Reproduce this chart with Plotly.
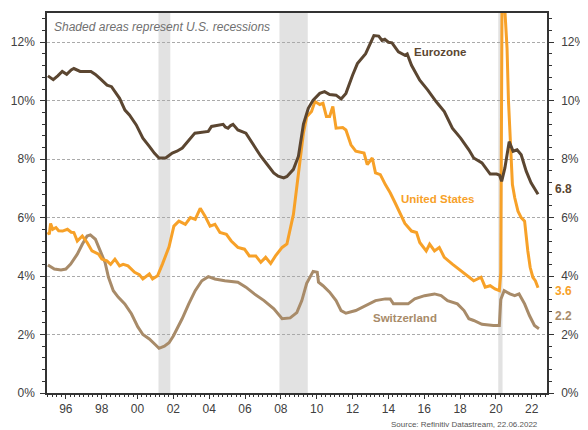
import plotly.graph_objects as go

# ---------------- data ----------------
ez_x = [1995.0, 1995.3, 1995.55, 1995.8, 1996.05, 1996.3, 1996.45, 1996.8, 1997.4, 1997.65, 1997.9,
        1998.3, 1998.55, 1998.8, 1999.0, 1999.3, 1999.55, 1999.93, 2000.3, 2000.66, 2000.95, 2001.2,
        2001.57, 2001.94, 2002.2, 2002.5, 2002.86, 2003.2, 2003.95, 2004.13, 2004.78, 2004.9, 2005.05,
        2005.2, 2005.33, 2005.6, 2006.05, 2006.5, 2006.88, 2007.25, 2007.6, 2007.85, 2008.16, 2008.34,
        2008.7, 2008.98, 2009.26, 2009.53, 2009.8, 2010.17, 2010.44, 2010.72, 2011.08, 2011.36, 2011.63,
        2012.0, 2012.27, 2012.73, 2013.19, 2013.46, 2013.64, 2013.8, 2014.0, 2014.2, 2014.38, 2014.56,
        2014.92, 2015.05, 2015.29, 2015.75, 2016.2, 2016.66, 2017.12, 2017.57, 2018.03, 2018.49, 2018.76,
        2019.22, 2019.68, 2020.04, 2020.2, 2020.32, 2020.5, 2020.74, 2020.96, 2021.18, 2021.41, 2021.69,
        2021.96, 2022.35]
ez_y = [10.85, 10.72, 10.85, 11.0, 10.9, 11.05, 11.1, 11.0, 11.0, 10.9, 10.76,
        10.53, 10.48, 10.25, 10.08, 9.68, 9.51, 9.17, 8.72, 8.44, 8.2, 8.04,
        8.04, 8.21, 8.27, 8.38, 8.63, 8.89, 8.95, 9.12, 9.19, 9.1, 9.06,
        9.15, 9.19, 9.0, 8.89, 8.44, 8.1, 7.81, 7.53, 7.42, 7.36, 7.41,
        7.65, 8.1, 9.2, 9.74, 10.02, 10.25, 10.31, 10.21, 10.19, 10.06, 10.25,
        10.87, 11.27, 11.61, 12.23, 12.21, 12.06, 12.1, 12.0, 11.98, 11.84, 11.67,
        11.55, 11.6, 11.21, 10.7, 10.36, 9.97, 9.63, 9.06, 8.72, 8.32, 8.04,
        7.87, 7.49, 7.49, 7.45, 7.24, 7.7, 8.6, 8.27, 8.32, 8.15, 7.59,
        7.19, 6.8]

us_x = [1995.0, 1995.08, 1995.15, 1995.27, 1995.45, 1995.6, 1995.82, 1996.09, 1996.3, 1996.45, 1996.64,
        1996.92, 1997.19, 1997.46, 1997.83, 1998.01, 1998.29, 1998.5, 1998.74, 1999.0, 1999.2, 1999.47,
        1999.84, 2000.1, 2000.3, 2000.5, 2000.66, 2000.84, 2001.12, 2001.39, 2001.76, 2002.03, 2002.31,
        2002.67, 2002.95, 2003.22, 2003.5, 2003.77, 2004.05, 2004.32, 2004.6, 2004.96, 2005.23, 2005.6,
        2005.97, 2006.24, 2006.6, 2006.88, 2007.15, 2007.43, 2007.7, 2008.07, 2008.34, 2008.7, 2008.98,
        2009.26, 2009.44, 2009.71, 2009.9, 2010.17, 2010.35, 2010.54, 2010.72, 2010.9, 2011.08, 2011.45,
        2011.63, 2011.91, 2012.18, 2012.64, 2012.82, 2013.1, 2013.28, 2013.55, 2013.83, 2014.1, 2014.38,
        2014.65, 2014.92, 2015.29, 2015.57, 2015.75, 2016.11, 2016.3, 2016.57, 2016.84, 2017.12, 2017.57,
        2018.03, 2018.49, 2018.76, 2019.17, 2019.4, 2019.68, 2019.95, 2020.19, 2020.27, 2020.35, 2020.5,
        2020.62, 2020.7, 2020.78, 2020.85, 2020.92, 2021.05, 2021.23, 2021.41, 2021.6, 2021.78, 2021.91,
        2022.06, 2022.2, 2022.35]
us_y = [5.5, 5.43, 5.8, 5.6, 5.66, 5.55, 5.54, 5.6, 5.5, 5.49, 5.2,
        5.37, 5.15, 4.86, 4.75, 4.58, 4.52, 4.4, 4.58, 4.35, 4.4, 4.35,
        4.13, 4.05, 3.9, 4.0, 4.07, 3.9, 4.01, 4.41, 5.0, 5.71, 5.88,
        5.77, 6.0, 5.94, 6.32, 6.05, 5.71, 5.77, 5.49, 5.43, 5.2, 4.98,
        4.92, 4.69, 4.69, 4.47, 4.64, 4.43, 4.69, 4.98, 5.1, 6.11, 7.47,
        8.9, 9.45, 9.63, 9.97, 9.87, 9.91, 9.46, 9.46, 9.8, 9.06, 9.08,
        9.0, 8.49, 8.27, 8.21, 7.81, 8.04, 7.53, 7.47, 7.13, 6.85, 6.5,
        6.15, 5.8, 5.54, 5.49, 5.15, 4.86, 5.09, 4.86, 4.98, 4.64, 4.41,
        4.18, 3.96, 3.84, 3.96, 3.62, 3.67, 3.56, 3.5, 4.1, 14.7, 13.3,
        11.8, 10.0, 8.8, 8.0, 7.13, 6.68, 6.22, 6.0, 5.88, 4.86, 4.3,
        3.96, 3.84, 3.6]

ch_x = [1995.0, 1995.36, 1995.73, 1996.0, 1996.27, 1996.64, 1996.92, 1997.19, 1997.37, 1997.65, 1997.92,
        1998.19, 1998.38, 1998.65, 1998.92, 1999.29, 1999.66, 2000.02, 2000.3, 2000.66, 2001.0, 2001.2,
        2001.5, 2001.76, 2002.0, 2002.25, 2002.49, 2002.86, 2003.22, 2003.59, 2003.95, 2004.32, 2004.87,
        2005.6, 2006.05, 2006.52, 2007.06, 2007.61, 2008.07, 2008.52, 2008.89, 2009.17, 2009.44, 2009.8,
        2010.03, 2010.1, 2010.35, 2010.72, 2011.08, 2011.36, 2011.63, 2012.18, 2012.73, 2013.28, 2013.83,
        2014.1, 2014.28, 2014.92, 2015.1, 2015.47, 2016.02, 2016.57, 2016.94, 2017.3, 2017.85, 2018.22,
        2018.49, 2018.76, 2019.22, 2019.86, 2020.19, 2020.27, 2020.46, 2020.78, 2021.05, 2021.29, 2021.6,
        2021.87, 2022.15, 2022.4]
ch_y = [4.38, 4.24, 4.21, 4.24, 4.41, 4.75, 5.09, 5.37, 5.41, 5.26, 4.86,
        4.47, 3.96, 3.5, 3.28, 3.05, 2.71, 2.26, 2.0, 1.85, 1.65, 1.53,
        1.6, 1.72, 1.95, 2.25, 2.54, 3.05, 3.5, 3.84, 3.98, 3.9, 3.84,
        3.79, 3.62, 3.39, 3.16, 2.88, 2.54, 2.57, 2.75, 3.16, 3.75, 4.16,
        4.13, 3.79, 3.67, 3.45, 3.16, 2.82, 2.73, 2.82, 2.99, 3.16, 3.22,
        3.22, 3.05, 3.05, 3.05, 3.22, 3.33, 3.39, 3.33, 3.16, 3.05, 2.82,
        2.54, 2.48, 2.35, 2.31, 2.31, 3.2, 3.5, 3.39, 3.33, 3.39, 3.05,
        2.65, 2.31, 2.2]

recession_start = [2001.17, 2007.92, 2020.13]
recession_end = [2001.83, 2009.5, 2020.37]

tick_years = [1996, 1998, 2000, 2002, 2004, 2006, 2008, 2010, 2012, 2014, 2016, 2018, 2020, 2022]
tick_text = ["96", "98", "00", "02", "04", "06", "08", "10", "12", "14", "16", "18", "20", "22"]
y_ticks = [0, 2, 4, 6, 8, 10, 12]
y_tick_text = ["0%", "2%", "4%", "6%", "8%", "10%", "12%"]

series_names = ["Eurozone", "United States", "Switzerland"]
last_values = ["6.8", "3.6", "2.2"]

# ---------------- styling ----------------
C_EZ = "#5b4631"
C_US = "#f7a128"
C_CH = "#a88b69"
FONT = "Liberation Sans"
AX = "#333333"

fig = go.Figure()
fig.add_trace(go.Scatter(x=ch_x, y=ch_y, mode="lines", line=dict(color=C_CH, width=3), name=series_names[2]))
fig.add_trace(go.Scatter(x=us_x, y=us_y, mode="lines", line=dict(color=C_US, width=3), name=series_names[1]))
fig.add_trace(go.Scatter(x=ez_x, y=ez_y, mode="lines", line=dict(color=C_EZ, width=3), name=series_names[0]))
# invisible trace so the right axis is drawn
fig.add_trace(go.Scatter(x=[ez_x[0]], y=[ez_y[0]], yaxis="y2", mode="markers",
                         marker=dict(opacity=0), hoverinfo="skip", showlegend=False))

for s, e in zip(recession_start, recession_end):
    fig.add_shape(type="rect", xref="x", yref="paper", x0=s, x1=e, y0=0, y1=1,
                  fillcolor="#e2e2e2", line=dict(width=0), layer="below")

def y_axis(**kw):
    d = dict(
        range=[0, 13.0], tickmode="array", tickvals=y_ticks, ticktext=y_tick_text,
        ticks="outside", ticklen=5, tickcolor=AX, tickwidth=1,
        showline=True, linecolor=AX, linewidth=1.5,
        tickfont=dict(family=FONT, size=12, color="#404040"),
        minor=dict(tickmode="linear", tick0=0, dtick=0.4, ticks="outside", ticklen=3,
                   tickcolor=AX, showgrid=False),
        zeroline=False, fixedrange=True,
    )
    d.update(kw)
    return d

# the page body has an 8px margin, so the figure is 8px smaller and margins shifted
fig.update_layout(
    width=580, height=422,
    margin=dict(l=38, r=34, t=3, b=37),
    paper_bgcolor="white", plot_bgcolor="white",
    showlegend=False,
    font=dict(family=FONT),
    xaxis=dict(
        range=[1994.95, 2022.85], tickmode="array", tickvals=tick_years, ticktext=tick_text,
        ticks="outside", ticklen=4, tickcolor=AX, showgrid=False,
        showline=True, linecolor=AX, linewidth=1.5, mirror=True,
        tickfont=dict(family=FONT, size=12, color="#404040"),
        minor=dict(tickmode="linear", tick0=1996, dtick=0.25, ticks="outside", ticklen=2, tickcolor=AX),
        zeroline=False,
    ),
    yaxis=y_axis(side="left", showgrid=True, gridcolor="#aaaaaa", griddash="3px,2px", gridwidth=1,
                 ticklabelstandoff=3),
    yaxis2=y_axis(side="right", overlaying="y", showgrid=False, anchor="x", ticklabelstandoff=5),
)

# texts
fig.add_annotation(text="<i>Shaded areas represent U.S. recessions</i>", xref="paper", yref="paper",
                   x=0.01, y=0.963, xanchor="left", yanchor="middle", showarrow=False,
                   font=dict(family=FONT, size=12, color="#707070"))
fig.add_annotation(text="<b>" + series_names[0] + "</b>", x=2016.9, y=11.67, xanchor="center", yanchor="middle",
                   showarrow=False, font=dict(family=FONT, size=11.5, color=C_EZ))
fig.add_annotation(text="<b>" + series_names[1] + "</b>", x=2016.76, y=6.63, xanchor="center", yanchor="middle",
                   showarrow=False, font=dict(family=FONT, size=11.5, color=C_US))
fig.add_annotation(text="<b>" + series_names[2] + "</b>", x=2014.95, y=2.55, xanchor="center", yanchor="middle",
                   showarrow=False, font=dict(family=FONT, size=11.5, color=C_CH))
for txt, yy, col in zip(last_values, [6.97, 3.5, 2.65], [C_EZ, C_US, C_CH]):
    fig.add_annotation(text="<b>" + txt + "</b>", xref="paper", yref="y", x=1.012, y=yy,
                       xanchor="left", yanchor="middle", showarrow=False,
                       font=dict(family=FONT, size=12, color=col))
fig.add_annotation(text="Source: Refinitiv Datastream, 22.06.2022", xref="paper", yref="paper",
                   x=0.986, y=-0.084, xanchor="right", yanchor="middle", showarrow=False,
                   font=dict(family=FONT, size=8, color="#555555"))

fig.write_html("out.html")
